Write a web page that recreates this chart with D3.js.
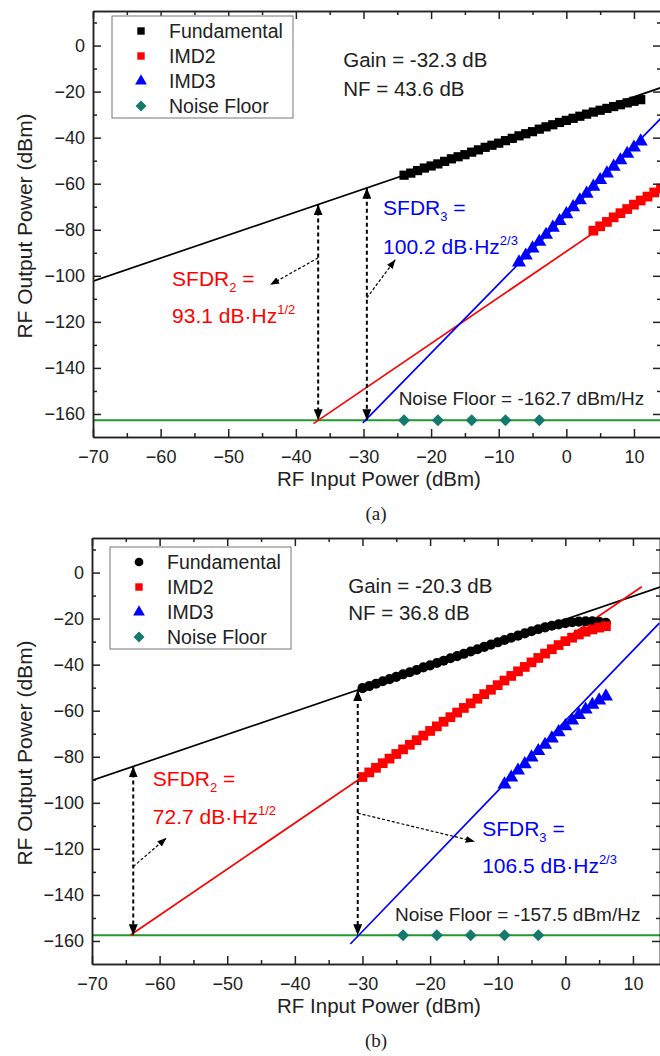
<!DOCTYPE html>
<html>
<head>
<meta charset="utf-8">
<script src="https://cdn.jsdelivr.net/npm/d3@7"></script>
<style>
  body { margin: 0; background: #fff; }
  svg { display: block; }
</style>
</head>
<body>
<svg id="chart" width="660" height="1056"></svg>
<script>
// ---------------------------------------------------------------------------
// DATA
// ---------------------------------------------------------------------------
const xDomain = [-70, 14];
const yDomain = [-170, 15];
const xMajor = [-70, -60, -50, -40, -30, -20, -10, 0, 10];
const xMinor = [-65, -55, -45, -35, -25, -15, -5, 5];
const yMajor = [-160, -140, -120, -100, -80, -60, -40, -20, 0];
const yMinor = [-150, -130, -110, -90, -70, -50, -30, -10, 10];
const legendLabels = ["Fundamental", "IMD2", "IMD3", "Noise Floor"];
const noiseX = [-24, -19, -14, -9, -4];

// panel (a)
const fundA = [[-24,-56.3],[-23,-55.4],[-22,-54.3],[-21,-53.2],[-20,-52.3],[-19,-51.4],[-18,-50.3],
  [-17,-49.2],[-16,-48.3],[-15,-47.4],[-14,-46.3],[-13,-45.3],[-12,-44.2],[-11,-43.3],[-10,-42.4],
  [-9,-41.3],[-8,-40.3],[-7,-39.2],[-6,-38.3],[-5,-37.4],[-4,-36.3],[-3,-35.3],[-2,-34.4],[-1,-33.4],
  [0,-32.5],[1,-31.6],[2,-30.7],[3,-29.8],[4,-28.9],[5,-28.1],[6,-27.3],[7,-26.5],[8,-25.7],
  [9,-24.9],[10,-24.2],[11,-23.5]];
const imd2A = [[4,-80.4],[5,-78.5],[6,-76.6],[7,-74.6],[8,-72.8],[9,-71.0],[10,-69.1],[11,-67.3],
  [12,-65.6],[13,-63.8],[14,-62.1]];
const imd3A = [[-7,-94.2],[-6,-91.2],[-5,-88.1],[-4,-85.2],[-3,-82.2],[-2,-79.1],[-1,-76.2],[0,-73.2],
  [1,-70.2],[2,-67.2],[3,-64.3],[4,-61.3],[5,-58.4],[6,-55.5],[7,-52.6],[8,-49.8],[9,-47.0],
  [10,-44.3],[11,-41.6]];
const noiseA = -162.7;
const fitFundA = [[-70,-102.3],[14,-18.3]];
const fitImd2A = [[-37.4,-164.2],[14,-61.4]];
const fitImd3A = [[-30.1,-163.9],[14,-31.6]];

// panel (b)
const fundB = [[-30,-50.2],[-29,-49.3],[-28,-48.3],[-27,-47.2],[-26,-46.3],[-25,-45.3],[-24,-44.2],
  [-23,-43.3],[-22,-42.3],[-21,-41.2],[-20,-40.3],[-19,-39.3],[-18,-38.3],[-17,-37.2],[-16,-36.3],
  [-15,-35.3],[-14,-34.3],[-13,-33.3],[-12,-32.3],[-11,-31.3],[-10,-30.3],[-9,-29.3],[-8,-28.3],
  [-7,-27.4],[-6,-26.4],[-5,-25.5],[-4,-24.6],[-3,-23.8],[-2,-23.1],[-1,-22.5],[0,-22.0],
  [1,-21.6],[2,-21.3],[3,-21.2],[4,-21.2],[5,-21.4],[6,-21.8]];
const imd2B = [[-30,-88.8],[-29,-86.8],[-28,-84.8],[-27,-82.8],[-26,-80.8],[-25,-78.8],[-24,-76.8],
  [-23,-74.8],[-22,-72.8],[-21,-70.8],[-20,-68.8],[-19,-66.8],[-18,-64.8],[-17,-62.8],[-16,-60.8],
  [-15,-58.8],[-14,-56.8],[-13,-54.8],[-12,-52.8],[-11,-50.9],[-10,-48.9],[-9,-46.9],[-8,-44.9],
  [-7,-42.9],[-6,-41.0],[-5,-39.0],[-4,-37.1],[-3,-35.2],[-2,-33.3],[-1,-31.5],[0,-29.8],
  [1,-28.3],[2,-26.9],[3,-25.7],[4,-24.7],[5,-23.9],[6,-23.3]];
const imd3B = [[-9,-92.0],[-8,-89.0],[-7,-86.0],[-6,-83.2],[-5,-80.3],[-4,-77.5],[-3,-74.8],[-2,-72.0],
  [-1,-69.3],[0,-66.7],[1,-64.2],[2,-61.8],[3,-59.5],[4,-57.4],[5,-55.5],[6,-53.8]];
const noiseB = -157.5;
const fitFundB = [[-70,-90.3],[14,-6.3]];
const fitImd2B = [[-64.3,-157.4],[11.3,-6.2]];
const fitImd3B = [[-31.8,-161.3],[13.9,-22.0]];

// ---------------------------------------------------------------------------
// PANEL SETUP
// ---------------------------------------------------------------------------
const FONT = "'Liberation Sans', Arial, Helvetica, sans-serif";
const RED = "#ff0000", BLUE = "#0000ff", TEAL = "#137a6c", GREEN = "#22992a";

const panels = [
  {
    tag: "(a)", left: 93, right: 661, top: 11, bottom: 437,
    fund: fundA, fundShape: "square", imd2: imd2A, imd3: imd3A, noise: noiseA,
    fitFund: fitFundA, fitImd2: fitImd2A, fitImd3: fitImd3A,
    legend: { dx: 19, dy: 5 },
    gain: ["Gain = -32.3 dB", "NF = 43.6 dB"], gainAt: [-33.0, -9.5, -22.1],
    sfdr2: ["93.1", "1/2"], sfdr2At: [-58.3, -104.6, -120.7],
    sfdr3: ["100.2", "2/3"], sfdr3At: [-27.1, -73.4, -90.7],
    noiseText: "Noise Floor = -162.7 dBm/Hz", noiseTextAt: [-24.8, -155.9],
    vArrows: [-36.7, -29.5],
    sArrows: [[[-36.7, -92.2], [-43.8, -103.9]], [[-29.5, -109.6], [-25.3, -93.0]]]
  },
  {
    tag: "(b)", left: 92, right: 660, top: 538, bottom: 964,
    fund: fundB, fundShape: "circle", imd2: imd2B, imd3: imd3B, noise: noiseB,
    fitFund: fitFundB, fitImd2: fitImd2B, fitImd3: fitImd3B,
    legend: { dx: 18, dy: 9 },
    gain: ["Gain = -20.3 dB", "NF = 36.8 dB"], gainAt: [-32.1, -8.7, -20.8],
    sfdr2: ["72.7", "1/2"], sfdr2At: [-61.0, -92.9, -109.4],
    sfdr3: ["106.5", "2/3"], sfdr3At: [-12.3, -114.6, -130.3],
    noiseText: "Noise Floor = -157.5 dBm/Hz", noiseTextAt: [-25.2, -151.5],
    vArrows: [-63.9, -30.7],
    sArrows: [[[-63.9, -127.7], [-59.0, -115.3]], [[-30.7, -104.5], [-13.4, -116.8]]]
  }
];

const svg = d3.select("#chart");
const defs = svg.append("defs");

function arrowMarker(id, w, l) {
  defs.append("marker")
    .attr("id", id)
    .attr("viewBox", `0 0 ${l} ${w}`)
    .attr("refX", l).attr("refY", w / 2)
    .attr("markerWidth", l).attr("markerHeight", w)
    .attr("markerUnits", "userSpaceOnUse")
    .attr("orient", "auto-start-reverse")
    .append("path")
    .attr("d", `M0,0L${l},${w / 2}L0,${w}Z`)
    .attr("fill", "#000");
}
arrowMarker("bigArrow", 9, 11);
arrowMarker("smallArrow", 7, 9);

const shapes = {
  square: d3.symbolSquare,
  circle: d3.symbolCircle,
  triangle: d3.symbolTriangle,
  diamond: d3.symbolSquare
};

function drawSymbols(g, data, shape, size, color, x, y) {
  const sym = d3.symbol().type(shapes[shape]).size(size);
  g.selectAll(null)
    .data(data)
    .enter()
    .append("path")
    .attr("d", sym)
    .attr("transform", d => `translate(${x(d[0])},${y(d[1])})` + (shape === "diamond" ? " rotate(45)" : ""))
    .attr("fill", color);
}

// y of a two-point fit line at a given x
function fitAt(fit, xv) {
  return d3.scaleLinear().domain([fit[0][0], fit[1][0]]).range([fit[0][1], fit[1][1]])(xv);
}

function sfdrLabel(g, color, sub, value, sup, px, py1, py2) {
  const t1 = g.append("text").attr("x", px).attr("y", py1)
    .attr("fill", color).style("font-family", FONT).style("font-size", "21px");
  t1.append("tspan").text("SFDR");
  t1.append("tspan").text(sub).style("font-size", "13px").attr("dy", 6);
  t1.append("tspan").text(" =").attr("dy", -6);
  const t2 = g.append("text").attr("x", px).attr("y", py2)
    .attr("fill", color).style("font-family", FONT).style("font-size", "21px");
  t2.append("tspan").text(value + " dB\u00b7Hz");
  t2.append("tspan").text(sup).style("font-size", "13px").attr("dy", -9);
}

panels.forEach((p, i) => {
  const x = d3.scaleLinear().domain(xDomain).range([p.left, p.right]);
  const y = d3.scaleLinear().domain(yDomain).range([p.bottom, p.top]);
  const g = svg.append("g");

  g.append("clipPath").attr("id", "clip" + i)
    .append("rect")
    .attr("x", p.left).attr("y", p.top)
    .attr("width", p.right - p.left).attr("height", p.bottom - p.top);

  const plot = g.append("g").attr("clip-path", `url(#clip${i})`);
  const line = d3.line().x(d => x(d[0])).y(d => y(d[1]));

  // noise floor line
  plot.append("path")
    .attr("d", line([[xDomain[0], p.noise], [xDomain[1], p.noise]]))
    .attr("stroke", GREEN).attr("stroke-width", 2).attr("fill", "none");

  // fitted lines
  [[p.fitFund, "#000"], [p.fitImd2, RED], [p.fitImd3, BLUE]].forEach(([fit, c]) => {
    plot.append("path").attr("d", line(fit))
      .attr("stroke", c).attr("stroke-width", 1.7).attr("fill", "none");
  });

  // measured points
  drawSymbols(plot, p.fund, p.fundShape, p.fundShape === "circle" ? 80 : 85, "#000", x, y);
  drawSymbols(plot, p.imd2, "square", 95, RED, x, y);
  drawSymbols(plot, p.imd3, "triangle", 85, BLUE, x, y);
  drawSymbols(plot, noiseX.map(v => [v, p.noise]), "diamond", 72, TEAL, x, y);

  // vertical SFDR arrows
  p.vArrows.forEach(xv => {
    g.append("line")
      .attr("x1", x(xv)).attr("x2", x(xv))
      .attr("y1", y(fitAt(p.fitFund, xv))).attr("y2", y(p.noise))
      .attr("stroke", "#000").attr("stroke-width", 2)
      .attr("stroke-dasharray", "4,3")
      .attr("marker-start", "url(#bigArrow)")
      .attr("marker-end", "url(#bigArrow)");
  });
  // small pointer arrows
  p.sArrows.forEach(([a, b]) => {
    g.append("line")
      .attr("x1", x(a[0])).attr("y1", y(a[1]))
      .attr("x2", x(b[0])).attr("y2", y(b[1]))
      .attr("stroke", "#000").attr("stroke-width", 1.2)
      .attr("stroke-dasharray", "3,2")
      .attr("marker-end", "url(#smallArrow)");
  });

  // axes (ticks inside on all four sides)
  const sides = [
    { make: () => d3.axisBottom(x), tr: `translate(0,${p.bottom})`, major: xMajor, minor: xMinor, labels: true, pad: 13 },
    { make: () => d3.axisTop(x), tr: `translate(0,${p.top})`, major: xMajor, minor: xMinor, labels: false, pad: 0 },
    { make: () => d3.axisLeft(y), tr: `translate(${p.left},0)`, major: yMajor, minor: yMinor, labels: true, pad: 8 },
    { make: () => d3.axisRight(y), tr: `translate(${p.right},0)`, major: yMajor, minor: yMinor, labels: false, pad: 0 }
  ];
  sides.forEach(s => {
    g.append("g").attr("transform", s.tr)
      .call(s.make().tickValues(s.minor).tickSizeInner(-4).tickSizeOuter(0).tickFormat(""));
    g.append("g").attr("transform", s.tr)
      .call(s.make().tickValues(s.major).tickSizeInner(-8).tickSizeOuter(0).tickPadding(s.pad)
        .tickFormat(s.labels ? d3.format("d") : ""));
  });
  g.selectAll(".domain, .tick line").attr("stroke", "#222").attr("stroke-width", 1.5);
  g.selectAll(".tick text")
    .attr("fill", "#222")
    .style("font-family", FONT).style("font-size", "18px");

  // axis titles
  g.append("text")
    .attr("x", 379).attr("y", p.bottom + 49)
    .attr("text-anchor", "middle").attr("fill", "#222")
    .style("font-family", FONT).style("font-size", "20.5px")
    .text("RF Input Power (dBm)");
  g.append("text")
    .attr("transform", `translate(32,${(p.top + p.bottom) / 2 + 2}) rotate(-90)`)
    .attr("text-anchor", "middle").attr("fill", "#222")
    .style("font-family", FONT).style("font-size", "21px")
    .text("RF Output Power (dBm)");

  // panel tag
  g.append("text")
    .attr("x", 376).attr("y", p.bottom + 83)
    .attr("text-anchor", "middle").attr("fill", "#222")
    .style("font-family", "'Liberation Serif', 'Times New Roman', serif").style("font-size", "19px")
    .text(p.tag);

  // legend
  const lx = p.left + p.legend.dx, ly = p.top + p.legend.dy;
  const leg = g.append("g").attr("transform", `translate(${lx},${ly})`);
  leg.append("rect").attr("width", 181).attr("height", 102)
    .attr("fill", "#fff").attr("stroke", "#777").attr("stroke-width", 1);
  const legShapes = [[p.fundShape, "#000", p.fundShape === "circle" ? 60 : 55],
    ["square", RED, 55], ["triangle", BLUE, 60], ["diamond", TEAL, 60]];
  legendLabels.forEach((lab, k) => {
    const by = 21.5 + k * 25;
    const [shape, c, sz] = legShapes[k];
    leg.append("path")
      .attr("d", d3.symbol().type(shapes[shape]).size(sz))
      .attr("transform", `translate(29,${by - 6.5})` + (shape === "diamond" ? " rotate(45)" : ""))
      .attr("fill", c);
    leg.append("text").attr("x", 57).attr("y", by)
      .attr("fill", "#222")
      .style("font-family", FONT).style("font-size", "19.5px")
      .text(lab);
  });

  // gain / NF text
  p.gain.forEach((t, k) => {
    g.append("text")
      .attr("x", x(p.gainAt[0])).attr("y", y(p.gainAt[1 + k]))
      .attr("fill", "#222")
      .style("font-family", FONT).style("font-size", "20.5px")
      .text(t);
  });

  // SFDR labels
  sfdrLabel(g, RED, "2", p.sfdr2[0], p.sfdr2[1], x(p.sfdr2At[0]), y(p.sfdr2At[1]), y(p.sfdr2At[2]));
  sfdrLabel(g, BLUE, "3", p.sfdr3[0], p.sfdr3[1], x(p.sfdr3At[0]), y(p.sfdr3At[1]), y(p.sfdr3At[2]));

  // noise floor label (shrunk a little so it stays inside the frame)
  g.append("text")
    .attr("x", x(p.noiseTextAt[0])).attr("y", y(p.noiseTextAt[1]))
    .attr("fill", "#222")
    .style("font-family", FONT).style("font-size", "19px")
    .text(p.noiseText);
});
</script>
</body>
</html>
